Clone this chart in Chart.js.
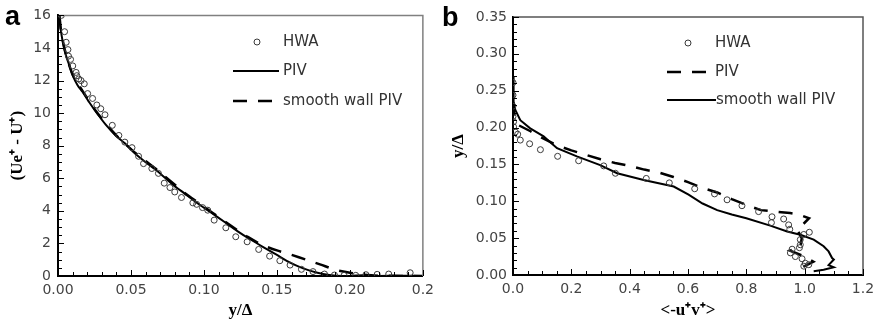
<!DOCTYPE html>
<html><head><meta charset="utf-8">
<script src="https://cdn.jsdelivr.net/npm/chart.js@4/dist/chart.umd.min.js"></script>
<style>
html,body{margin:0;padding:0;background:#fff;width:881px;height:324px;overflow:hidden}
#wa{position:absolute;left:0;top:0;width:440px;height:324px}
#wb{position:absolute;left:440px;top:0;width:441px;height:324px}
</style></head><body>
<div id="wa"><canvas id="ca" width="440" height="324"></canvas></div>
<div id="wb"><canvas id="cb" width="441" height="324"></canvas></div>
<script>
// ---------- Panel a : (Ue+ - U+) vs y/Δ ----------
const hwaA_x = [0.0023,0.0045,0.0056,0.0068,0.0072,0.0086,0.0101,0.0124,0.0129,0.0142,0.0158,0.018,0.0203,0.0237,0.0266,0.0293,0.0322,0.0372,0.0417,0.0458,0.0507,0.0552,0.0586,0.0643,0.0688,0.0728,0.0767,0.08,0.0846,0.0924,0.095,0.099,0.1026,0.107,0.115,0.1218,0.1296,0.1375,0.145,0.152,0.159,0.1668,0.1747,0.1826,0.1894,0.196,0.204,0.211,0.2187,0.2266,0.2413];
const hwaA_y = [16.0,15.0,14.35,13.9,13.5,13.3,12.9,12.5,12.3,12.1,12.0,11.8,11.2,10.9,10.5,10.27,9.9,9.25,8.63,8.22,7.88,7.35,6.9,6.6,6.3,5.7,5.43,5.16,4.82,4.49,4.4,4.2,4.04,3.43,2.96,2.41,2.1,1.63,1.22,0.94,0.67,0.41,0.27,0.12,0.06,0.04,0.04,0.08,0.1,0.12,0.2];
const pivA_x = [0.001,0.0011,0.0023,0.004,0.0056,0.0079,0.0101,0.0135,0.0169,0.0214,0.027,0.0327,0.0395,0.0462,0.053,0.0598,0.0688,0.0778,0.0868,0.0958,0.1048,0.1139,0.1229,0.1319,0.1409,0.15,0.159,0.168,0.177,0.186,0.195,0.2086,0.22,0.235,0.25];
const pivA_y = [16.0,15.7,14.86,14.04,13.5,12.9,12.3,11.7,11.3,10.67,9.96,9.29,8.63,8.12,7.5,7.0,6.39,5.67,5.06,4.45,3.9,3.33,2.76,2.24,1.76,1.29,0.82,0.47,0.22,0.06,0.0,0.04,0.0,0.02,0.0];
const smoothA_x = [0.001,0.0023,0.0056,0.0101,0.0169,0.027,0.0395,0.053,0.0688,0.0868,0.1048,0.1229,0.13,0.14,0.15,0.16,0.17,0.18,0.19,0.2,0.21,0.22,0.25];
const smoothA_y = [16.0,14.9,13.55,12.35,11.35,10.0,8.67,7.55,6.45,5.1,3.95,2.82,2.4,1.9,1.57,1.3,1.0,0.7,0.38,0.2,0.08,0.02,0.0];
const ticksA_x = [0,0.05,0.10,0.15,0.20,0.25];
const tickLabelsA_x = ['0.00','0.05','0.10','0.15','0.20','0.2'];

// ---------- Panel b : y/Δ vs <-u+v+> ----------
const hwaB_x = [0,0,0,0,0.002,0.002,0.008,0.016,0.025,0.057,0.094,0.153,0.225,0.311,0.351,0.457,0.536,0.623,0.691,0.734,0.785,0.842,0.888,0.886,0.928,0.945,0.949,0.997,1.016,0.985,0.985,0.982,0.957,0.951,0.968,0.991,1.002,0.997,1.014];
const hwaB_y = [0.261,0.244,0.229,0.215,0.208,0.201,0.194,0.191,0.183,0.178,0.170,0.161,0.155,0.148,0.138,0.131,0.125,0.117,0.110,0.102,0.094,0.086,0.079,0.071,0.076,0.068,0.062,0.055,0.058,0.048,0.041,0.037,0.035,0.030,0.025,0.022,0.016,0.012,0.014];
const pivB_x = [0.0,0.005,0.02,0.06,0.1,0.15,0.2,0.25,0.3,0.35,0.4,0.45,0.5,0.55,0.6,0.65,0.7,0.75,0.8,0.85,0.9,0.95,0.98,1.015,0.975,0.99,0.985,0.95,1.0,1.03,1.0,0.99];
const pivB_y = [0.235,0.215,0.203,0.195,0.186,0.176,0.169,0.163,0.157,0.152,0.148,0.143,0.139,0.133,0.126,0.118,0.112,0.103,0.095,0.088,0.086,0.084,0.082,0.077,0.061,0.05,0.038,0.033,0.025,0.018,0.012,0.01];
const smoothB_x = [0,0.001,0.003,0.008,0.025,0.059,0.105,0.151,0.219,0.299,0.357,0.448,0.551,0.602,0.65,0.7,0.75,0.8,0.882,0.94,0.985,1.031,1.065,1.082,1.094,1.10,1.082,1.10,1.065,1.031];
const smoothB_y = [0.269,0.25,0.235,0.224,0.21,0.199,0.188,0.172,0.161,0.149,0.138,0.129,0.120,0.109,0.097,0.088,0.082,0.077,0.067,0.059,0.0546,0.048,0.039,0.032,0.023,0.021,0.0135,0.0105,0.007,0.005];

const seriesNames = ['HWA','PIV','smooth wall PIV'];
const zip = (xs, ys) => xs.map((x, i) => ({x, y: ys[i]}));

const TICK_FONT = {family: 'DejaVu Sans', size: 14};
const TICK_COLOR = '#444';
const TITLE_FONT = {family: 'Liberation Serif', size: 17, weight: 'bold'};

// inward major/minor ticks, top/right frame, panel letter, in-plot legend
const decor = {
  id: 'decor',
  afterDraw(chart, args, o) {
    const ctx = chart.ctx, ca = chart.chartArea;
    const xs = chart.scales.x, ys = chart.scales.y;
    ctx.save();
    ctx.setLineDash([]);
    // frame (top & right)
    ctx.strokeStyle = o.frameColor; ctx.lineWidth = 1.5;
    ctx.beginPath();
    ctx.moveTo(ca.left, ca.top); ctx.lineTo(ca.right, ca.top); ctx.lineTo(ca.right, ca.bottom);
    ctx.stroke();
    // inward ticks
    ctx.strokeStyle = '#000'; ctx.lineWidth = 1;
    const n = (a, b) => Math.round(a / b);
    for (let i = 0; i <= n(xs.max - xs.min, o.xMinor); i++) {
      const v = xs.min + i * o.xMinor;
      const major = Math.abs(v / o.xMajor - Math.round(v / o.xMajor)) < 1e-6;
      const px = Math.round(xs.getPixelForValue(v)) + 0.5;
      ctx.beginPath(); ctx.moveTo(px, ca.bottom); ctx.lineTo(px, ca.bottom - (major ? 6 : 4)); ctx.stroke();
    }
    for (let i = 0; i <= n(ys.max - ys.min, o.yMinor); i++) {
      const v = ys.min + i * o.yMinor;
      const major = Math.abs(v / o.yMajor - Math.round(v / o.yMajor)) < 1e-6;
      const py = Math.round(ys.getPixelForValue(v)) + 0.5;
      ctx.beginPath(); ctx.moveTo(ca.left, py); ctx.lineTo(ca.left + (major ? 6 : 4), py); ctx.stroke();
    }
    // panel letter
    ctx.fillStyle = '#000';
    ctx.font = 'bold 27px "Liberation Sans"';
    ctx.textBaseline = 'alphabetic'; ctx.textAlign = 'left';
    ctx.fillText(o.letter, o.letterX, o.letterY);
    // legend
    ctx.font = '15px "DejaVu Sans"';
    ctx.textBaseline = 'middle';
    o.legend.forEach((it) => {
      const ds = chart.data.datasets[it.ds];
      if (it.kind === 'point') {
        ctx.strokeStyle = ds.pointBorderColor; ctx.lineWidth = 1;
        ctx.beginPath(); ctx.arc(it.sx, it.y, 3, 0, Math.PI * 2); ctx.stroke();
      } else {
        ctx.strokeStyle = ds.borderColor; ctx.lineWidth = ds.borderWidth;
        ctx.setLineDash(ds.borderDash || []);
        ctx.beginPath(); ctx.moveTo(it.x0, it.y); ctx.lineTo(it.x1, it.y); ctx.stroke();
        ctx.setLineDash([]);
      }
      ctx.fillStyle = '#333';
      ctx.fillText(seriesNames[it.name], it.tx, it.y);
    });
    ctx.restore();
  }
};

function pointDs(data) {
  return {type: 'scatter', data, showLine: false, pointRadius: 3, pointHoverRadius: 3,
    pointStyle: 'circle', pointBorderColor: '#3a3a3a', pointBackgroundColor: 'rgba(255,255,255,0)', pointBorderWidth: 1};
}
function lineDs(data, dashed, tension) {
  return {type: 'scatter', data, showLine: true, pointRadius: 0, borderColor: '#000',
    borderWidth: dashed ? 2.5 : 2, borderDash: dashed ? [14, 11] : [], tension: tension, fill: false};
}
function axisCommon() {
  return {
    type: 'linear',
    grid: {display: true, drawOnChartArea: false, drawTicks: false},
    border: {display: true, color: '#000', width: 2},
  };
}

Chart.defaults.animation = false;

new Chart(document.getElementById('ca'), {
  type: 'scatter',
  data: {datasets: [
    pointDs(zip(hwaA_x, hwaA_y)),
    lineDs(zip(pivA_x, pivA_y), false, 0.2),
    lineDs(zip(smoothA_x, smoothA_y), true, 0.2)
  ]},
  options: {
    responsive: false, animation: false,
    layout: {padding: {top: 15, right: 13, left: 0, bottom: 0}},
    plugins: {legend: {display: false}, tooltip: {enabled: false},
      decor: {xMinor: 0.01, xMajor: 0.05, yMinor: 0.5, yMajor: 2, letter: 'a', letterX: 5, letterY: 25, frameColor: '#808080',
        legend: [
          {ds: 0, name: 0, kind: 'point', sx: 257, y: 42, tx: 283},
          {ds: 1, name: 1, kind: 'line', x0: 233, x1: 279, y: 71, tx: 283},
          {ds: 2, name: 2, kind: 'line', x0: 233, x1: 277, y: 101, tx: 283}
        ]}},
    scales: {
      x: Object.assign(axisCommon(), {
        min: 0, max: 0.25,
        afterBuildTicks: (s) => { s.ticks = ticksA_x.map(v => ({value: v})); },
        afterFit: (s) => { s.height = 48; },
        ticks: {font: TICK_FONT, color: TICK_COLOR, padding: 6, maxRotation: 0, autoSkip: false,
          callback: (v, i) => tickLabelsA_x[i]},
        title: {display: true, text: 'y/Δ', font: TITLE_FONT, color: '#000', padding: {top: 0, bottom: 3}}
      }),
      y: Object.assign(axisCommon(), {
        min: 0, max: 16,
        afterFit: (s) => { s.width = 58; },
        ticks: {font: TICK_FONT, color: TICK_COLOR, padding: 7, stepSize: 2, callback: v => String(v)},
        title: {display: true, text: '(Ue⁺ - U⁺)', font: TITLE_FONT, color: '#000', padding: {top: 7, bottom: 0}}
      })
    }
  },
  plugins: [decor]
});

new Chart(document.getElementById('cb'), {
  type: 'scatter',
  data: {datasets: [
    pointDs(zip(hwaB_x, hwaB_y)),
    lineDs(zip(pivB_x, pivB_y), true, 0),
    lineDs(zip(smoothB_x, smoothB_y), false, 0)
  ]},
  options: {
    responsive: false, animation: false,
    layout: {padding: {top: 17, right: 18, left: 0, bottom: 0}},
    plugins: {legend: {display: false}, tooltip: {enabled: false},
      decor: {xMinor: 0.05, xMajor: 0.2, yMinor: 0.01, yMajor: 0.05, letter: 'b', letterX: 2, letterY: 26, frameColor: '#555',
        legend: [
          {ds: 0, name: 0, kind: 'point', sx: 248, y: 43, tx: 275},
          {ds: 1, name: 1, kind: 'line', x0: 227, x1: 269, y: 72, tx: 275},
          {ds: 2, name: 2, kind: 'line', x0: 227, x1: 276, y: 100, tx: 276}
        ]}},
    scales: {
      x: Object.assign(axisCommon(), {
        min: 0, max: 1.2,
        afterFit: (s) => { s.height = 49; },
        ticks: {font: TICK_FONT, color: TICK_COLOR, padding: 6, maxRotation: 0, autoSkip: false, stepSize: 0.2,
          callback: v => Number(v).toFixed(1)},
        title: {display: true, text: '<-u⁺v⁺>', font: TITLE_FONT, color: '#000', padding: {top: 0, bottom: 3}}
      }),
      y: Object.assign(axisCommon(), {
        min: 0, max: 0.35,
        afterFit: (s) => { s.width = 73; },
        ticks: {font: TICK_FONT, color: TICK_COLOR, padding: 6, stepSize: 0.05, callback: v => Number(v).toFixed(2)},
        title: {display: true, text: 'y/Δ', font: TITLE_FONT, color: '#000', padding: {top: 8, bottom: 0}}
      })
    }
  },
  plugins: [decor]
});
</script>
</body></html>
